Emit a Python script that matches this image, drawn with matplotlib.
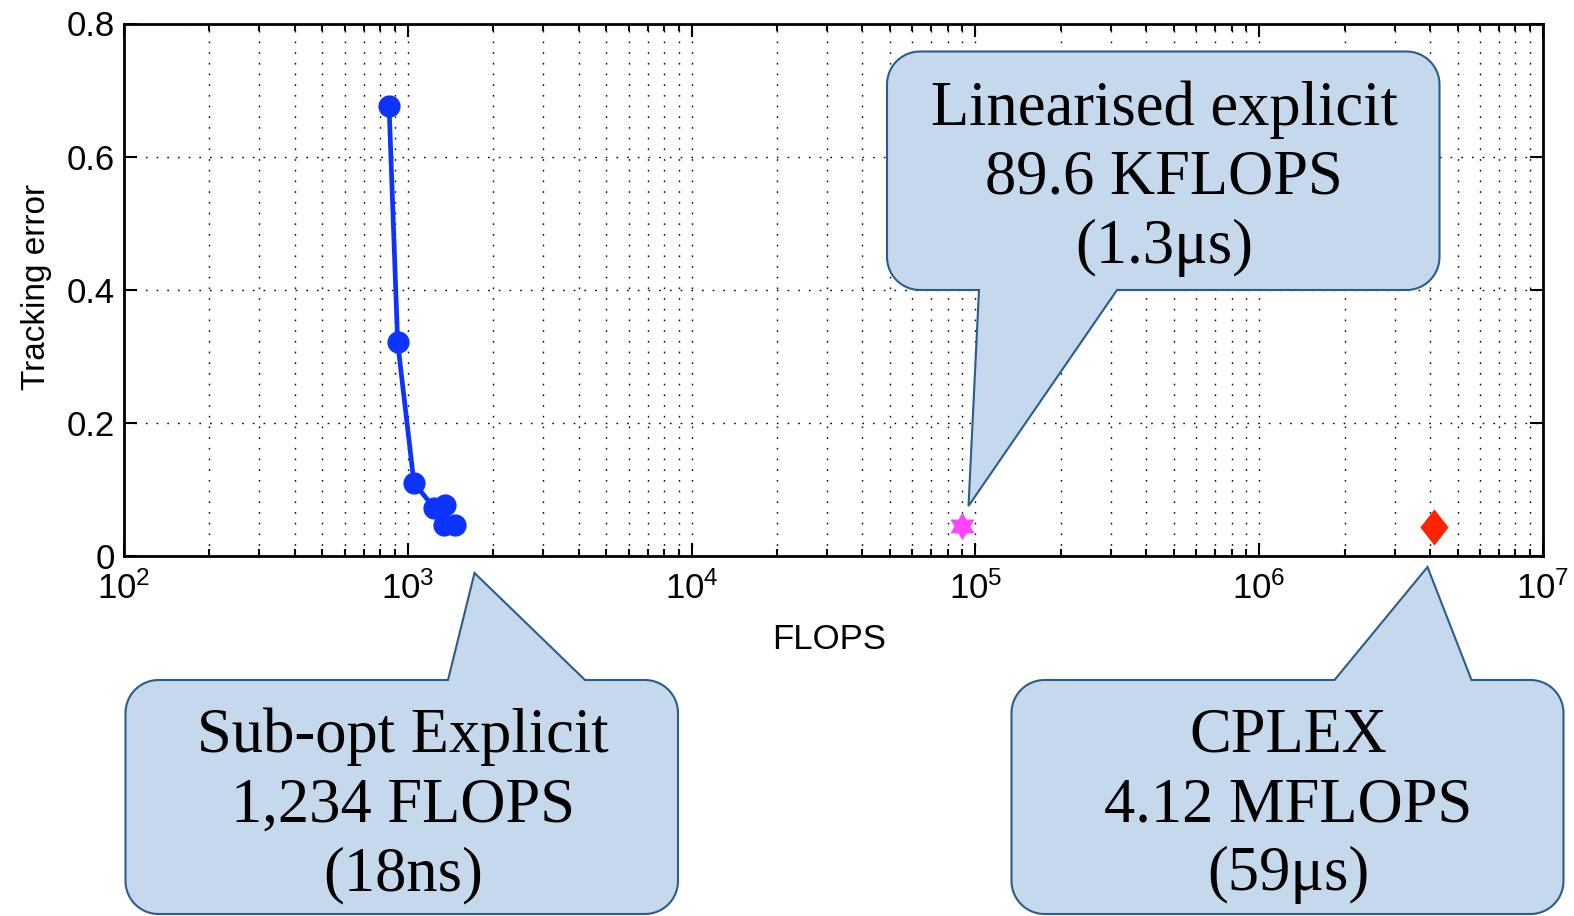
#!/usr/bin/env python3

import numpy as np
import matplotlib
matplotlib.use('Agg')
from matplotlib import pyplot as plt
from matplotlib.path import Path
from matplotlib.patches import PathPatch
from matplotlib.ticker import LogLocator, NullFormatter

# Figure size in pixels.
W, H = 1574, 916

# Sub-optimal explicit controller: FLOPS vs tracking error.
subopt_flops = [859, 921, 1051, 1240, 1352, 1345, 1467]
subopt_error = [0.676, 0.321, 0.110, 0.072, 0.077, 0.047, 0.047]
# Linearised explicit controller.
linexp_flops = [89600]
linexp_error = [0.045]
# CPLEX.
cplex_flops = [4.12e6]
cplex_error = [0.044]

y_ticks = [0, 0.2, 0.4, 0.6, 0.8]
y_tick_labels = ['0', '0.2', '0.4', '0.6', '0.8']

lin_lines = ['Linearised explicit', '89.6 KFLOPS', '(1.3\u03bcs)']
sub_lines = ['Sub-opt Explicit', '1,234 FLOPS', '(18ns)']
cplex_lines = ['CPLEX', '4.12 MFLOPS', '(59\u03bcs)']

plt.rcParams['font.family'] = ['Liberation Sans', 'DejaVu Sans']

fig = plt.figure(figsize=(W / 100, H / 100), dpi=100)
ax = fig.add_axes([124 / W, 1 - 556 / H, 1419 / W, 532.5 / H])

# Six-pointed star and a squat diamond as marker shapes.
a_out = np.deg2rad(90 + 60 * np.arange(6))
a_in = a_out + np.deg2rad(30)
r_in = 1 / np.sqrt(3)
star_v = []
for ao, ai in zip(a_out, a_in):
    star_v.append((np.cos(ao), np.sin(ao)))
    star_v.append((r_in * np.cos(ai), r_in * np.sin(ai)))
star_v.append(star_v[0])
hexagram = Path(star_v, closed=True)
diamond = Path([(0, 1), (0.78, 0), (0, -1), (-0.78, 0), (0, 1)], closed=True)

ax.plot(subopt_flops, subopt_error, '-o', color='#0d33ff', lw=3.4,
        ms=16, mew=0, zorder=3)
ax.plot(linexp_flops, linexp_error, linestyle='none', marker=hexagram,
        color='#ff44ff', ms=20, mew=0, zorder=3)
ax.plot(cplex_flops, cplex_error, linestyle='none', marker=diamond,
        color='#ff2200', ms=26, mew=0, zorder=3)

ax.set_xscale('log')
ax.set_xlim(1e2, 1e7)
ax.set_ylim(0, 0.8)
ax.set_yticks(y_ticks, labels=y_tick_labels)
ax.xaxis.set_minor_locator(LogLocator(base=10, subs=np.arange(2, 10), numticks=50))
ax.xaxis.set_minor_formatter(NullFormatter())

dots = (0, (1.2, 6.5))
ax.grid(True, which='major', axis='both', color='k', linestyle=dots, lw=1)
ax.grid(True, which='minor', axis='x', color='k', linestyle=dots, lw=1)

for s in ax.spines.values():
    s.set_linewidth(2)
ax.tick_params(which='both', direction='in', top=True, right=True,
               labelsize=25, width=1.5, color='k')
ax.tick_params(which='major', length=9.5)
ax.tick_params(which='minor', length=5)
ax.tick_params(axis='y', pad=6.5)
ax.tick_params(axis='x', pad=11)

ax.set_xlabel('FLOPS', fontsize=25)
ax.set_ylabel('Tracking error', fontsize=24)
ax.xaxis.set_label_coords(0.497, -0.126)
ax.yaxis.set_label_coords(-0.051, 0.505)


def bubble(x0, y0, x1, y1, r, bl, br, tip, top):
    # Rounded box with a triangular pointer, in pixels (y down).
    def arc(cx, cy, t0, t1):
        t = np.deg2rad(np.linspace(t0, t1, 20))
        return list(zip(cx + r * np.cos(t), cy + r * np.sin(t)))
    v = [(x0 + r, y0)]
    if top:
        v += [(bl, y0), tip, (br, y0)]
    v += [(x1 - r, y0)]
    v += arc(x1 - r, y0 + r, -90, 0)
    v += arc(x1 - r, y1 - r, 0, 90)
    if not top:
        v += [(br, y1), tip, (bl, y1)]
    v += arc(x0 + r, y1 - r, 90, 180)
    v += arc(x0 + r, y0 + r, 180, 270)
    v = np.array(v)
    v[:, 0] = v[:, 0] / W
    v[:, 1] = 1 - v[:, 1] / H
    p = PathPatch(Path(v, closed=False), transform=fig.transFigure,
                  facecolor='#c5d8ec', edgecolor='#2b5d8c', lw=1.5,
                  zorder=5, clip_on=False)
    fig.add_artist(p)


def lines(cx, baselines, texts):
    for yb, t in zip(baselines, texts):
        fig.text(cx / W, 1 - yb / H, t, ha='center', va='baseline',
                 family='Liberation Serif', fontsize=45, zorder=6)


bubble(887, 51.5, 1439.5, 290, 33, 979, 1117, (968.5, 506), top=False)
lines(1164, [125, 193.5, 263], lin_lines)

bubble(125.5, 680, 678, 914, 33, 448, 585, (474.5, 573), top=True)
lines(403, [751.5, 821.5, 890], sub_lines)

bubble(1011.5, 680, 1563.5, 914, 33, 1334.5, 1471.5, (1427.5, 567), top=True)
lines(1288.5, [751.5, 821.5, 890], cplex_lines)

fig.savefig('out.png', dpi=100)
